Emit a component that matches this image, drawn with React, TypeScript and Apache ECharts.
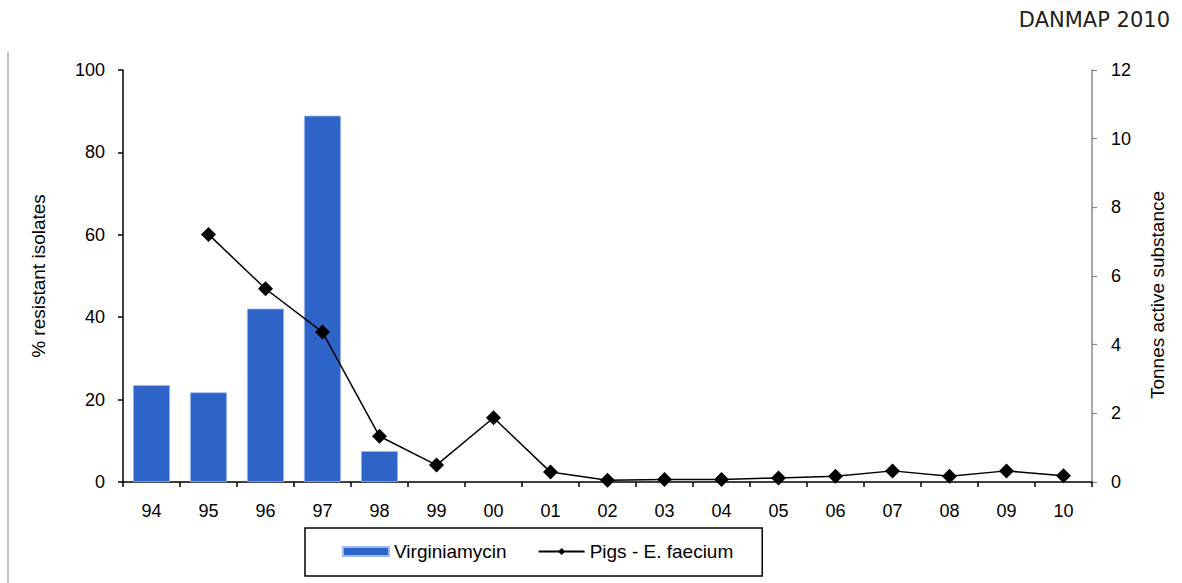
import React, { useEffect, useRef } from "react";
import * as echarts from "echarts";

const years = ["94", "95", "96", "97", "98", "99", "00", "01", "02", "03", "04", "05", "06", "07", "08", "09", "10"];
const virginiamycinTonnes = [2.82, 2.61, 5.05, 10.67, 0.9, null, null, null, null, null, null, null, null, null, null, null, null];
const pigsEFaeciumPct = [null, 60.1, 46.9, 36.4, 11.1, 4.1, 15.6, 2.4, 0.4, 0.6, 0.6, 1.0, 1.4, 2.7, 1.4, 2.7, 1.5];

const FONT = "Liberation Sans, Arial, sans-serif";

export default function App() {
  const ref = useRef<HTMLDivElement>(null);
  useEffect(() => {
    if (!ref.current) return;
    const chart = echarts.init(ref.current, undefined, { renderer: "svg" });
    chart.setOption({
      animation: false,
      backgroundColor: "#ffffff",
      textStyle: { fontFamily: FONT },
      grid: { left: 123, right: 90, top: 70, bottom: 101, containLabel: false },
      legend: {
        left: 305,
        top: 528,
        padding: [14, 29, 15, 37],
        itemGap: 31,
        itemWidth: 46,
        itemHeight: 9,
        borderColor: "#000",
        borderWidth: 1.5,
        textStyle: { fontSize: 19, color: "#000", fontFamily: FONT },
        data: [
          { name: "Virginiamycin", icon: "rect" },
          { name: "Pigs - E. faecium" },
        ],
      },
      xAxis: {
        type: "category",
        data: years,
        boundaryGap: true,
        axisLine: { lineStyle: { color: "#000", width: 1.5 } },
        axisTick: { show: true, length: 5, inside: false, lineStyle: { color: "#000", width: 1.5 } },
        axisLabel: { fontSize: 18, color: "#000", margin: 20, fontFamily: FONT },
      },
      yAxis: [
        {
          type: "value",
          min: 0,
          max: 100,
          interval: 20,
          position: "left",
          name: "% resistant isolates",
          nameLocation: "middle",
          nameGap: 75,
          nameTextStyle: { fontSize: 19, color: "#000", fontFamily: FONT },
          axisLine: { show: true, lineStyle: { color: "#000", width: 1.5 } },
          axisTick: { show: true, length: 5, lineStyle: { color: "#000", width: 1.5 } },
          axisLabel: { fontSize: 18, color: "#000", margin: 18, fontFamily: FONT },
          splitLine: { show: false },
        },
        {
          type: "value",
          min: 0,
          max: 12,
          interval: 2,
          position: "right",
          name: "Tonnes active substance",
          nameLocation: "middle",
          nameGap: 56,
          nameTextStyle: { fontSize: 19, color: "#000", fontFamily: FONT, padding: [0, 38, 0, 0] },
          axisLine: { show: true, lineStyle: { color: "#888", width: 1.5 } },
          axisTick: { show: true, length: 5, lineStyle: { color: "#888", width: 1.2 } },
          axisLabel: { fontSize: 18, color: "#000", margin: 19, fontFamily: FONT },
          splitLine: { show: false },
        },
      ],
      series: [
        {
          name: "Virginiamycin",
          type: "bar",
          yAxisIndex: 1,
          data: virginiamycinTonnes,
          barWidth: 37,
          itemStyle: { color: "#2E63C8", borderColor: "#9db7ec", borderWidth: 0.8 },
        },
        {
          name: "Pigs - E. faecium",
          type: "line",
          yAxisIndex: 0,
          data: pigsEFaeciumPct,
          symbol: "diamond",
          symbolSize: 15,
          lineStyle: { color: "#000", width: 1.5 },
          itemStyle: { color: "#000" },
          z: 5,
        },
      ],
      graphic: [
        {
          type: "text",
          right: 12,
          top: 9,
          style: { text: "DANMAP 2010", fontSize: 21, fill: "#222", fontFamily: "DejaVu Sans, sans-serif" },
        },
        {
          type: "line",
          shape: { x1: 8, y1: 52, x2: 8, y2: 583 },
          style: { stroke: "#888", lineWidth: 1 },
        },
      ],
    });
    return () => chart.dispose();
  }, []);
  return <div ref={ref} style={{ position: "absolute", left: 0, top: 0, width: 1182, height: 583 }} />;
}
